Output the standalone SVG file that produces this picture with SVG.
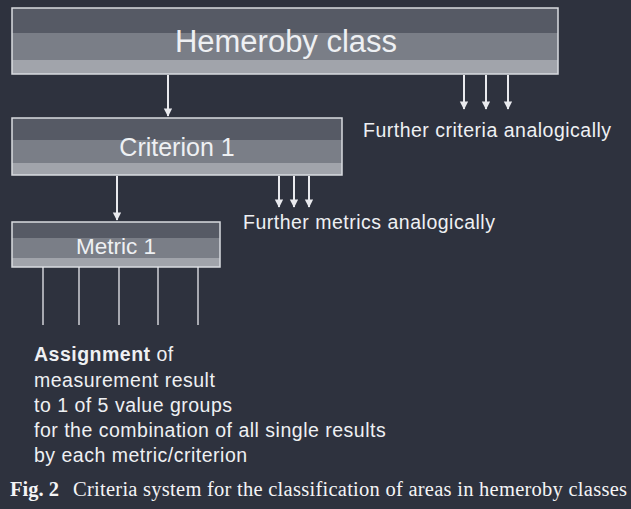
<svg xmlns="http://www.w3.org/2000/svg" width="631" height="509" viewBox="0 0 631 509">
<defs>
<style>
.b1{fill:#565a65}
.b2{fill:#7a7e87}
.b3{fill:#a1a4ab}
.frame{fill:none;stroke:#d9dbe0;stroke-width:1.5}
.lbl{font-family:"Liberation Sans",Arial,sans-serif;fill:#eef0f3;text-anchor:middle}
.txt{font-family:"Liberation Sans",Arial,sans-serif;fill:#eef0f3;font-size:19.5px;letter-spacing:0.5px}
.cap{font-family:"Liberation Serif","Times New Roman",serif;fill:#f4f4f6;font-size:20.5px}
.ln{stroke:#e9eaee;stroke-width:2;fill:none}
.thin{stroke:#e9eaee;stroke-width:1.3;fill:none}
</style>
<marker id="ad" viewBox="0 0 10 12" refX="9" refY="5" markerWidth="12" markerHeight="10" markerUnits="userSpaceOnUse" orient="auto">
<path d="M0,0 L10,5 L0,10 Z" fill="#e9eaee"/>
</marker>
</defs>
<rect width="631" height="509" fill="#2e323e"/>

<g id="hemeroby">
<rect class="b1" x="12" y="8" width="546" height="25"/>
<rect class="b2" x="12" y="33" width="546" height="27"/>
<rect class="b3" x="12" y="60" width="546" height="14"/>
<rect class="frame" x="12" y="8" width="546" height="66"/>
<text class="lbl" x="286" y="52" font-size="31">Hemeroby class</text>
</g>

<g id="criterion">
<rect class="b1" x="12" y="118" width="330" height="22"/>
<rect class="b2" x="12" y="140" width="330" height="23"/>
<rect class="b3" x="12" y="163" width="330" height="12"/>
<rect class="frame" x="12" y="118" width="330" height="57"/>
<text class="lbl" x="177" y="156" font-size="25">Criterion 1</text>
</g>

<g id="metric">
<rect class="b1" x="12" y="222" width="208" height="16"/>
<rect class="b2" x="12" y="238" width="208" height="20"/>
<rect class="b3" x="12" y="258" width="208" height="9"/>
<rect class="frame" x="12" y="222" width="208" height="45"/>
<text class="lbl" x="116" y="254" font-size="22.5">Metric 1</text>
</g>

<g id="connectors">
<line class="ln" x1="168" y1="75" x2="168" y2="116" marker-end="url(#ad)"/>
<line class="ln" x1="464" y1="75" x2="464" y2="109" marker-end="url(#ad)"/>
<line class="ln" x1="486" y1="75" x2="486" y2="109" marker-end="url(#ad)"/>
<line class="ln" x1="508" y1="75" x2="508" y2="109" marker-end="url(#ad)"/>
<line class="ln" x1="117" y1="176" x2="117" y2="220" marker-end="url(#ad)"/>
<line class="ln" x1="279" y1="176" x2="279" y2="207" marker-end="url(#ad)"/>
<line class="ln" x1="294" y1="176" x2="294" y2="207" marker-end="url(#ad)"/>
<line class="ln" x1="309" y1="176" x2="309" y2="207" marker-end="url(#ad)"/>
<line class="thin" x1="43" y1="267" x2="43" y2="325"/>
<line class="thin" x1="79" y1="267" x2="79" y2="325"/>
<line class="thin" x1="119" y1="267" x2="119" y2="325"/>
<line class="thin" x1="158" y1="267" x2="158" y2="325"/>
<line class="thin" x1="198" y1="267" x2="198" y2="325"/>
</g>

<g id="labels">
<text class="txt" x="363" y="137">Further criteria analogically</text>
<text class="txt" x="243" y="229">Further metrics analogically</text>
<text class="txt" x="34" y="361"><tspan font-weight="bold">Assignment</tspan> of</text>
<text class="txt" x="34" y="387">measurement result</text>
<text class="txt" x="34" y="412">to 1 of 5 value groups</text>
<text class="txt" x="34" y="437">for the combination of all single results</text>
<text class="txt" x="34" y="462">by each metric/criterion</text>
</g>

<g id="caption">
<text class="cap" x="10" y="496" font-weight="bold">Fig. 2</text>
<text class="cap" x="73" y="496" textLength="554" lengthAdjust="spacing">Criteria system for the classification of areas in hemeroby classes</text>
</g>
</svg>
